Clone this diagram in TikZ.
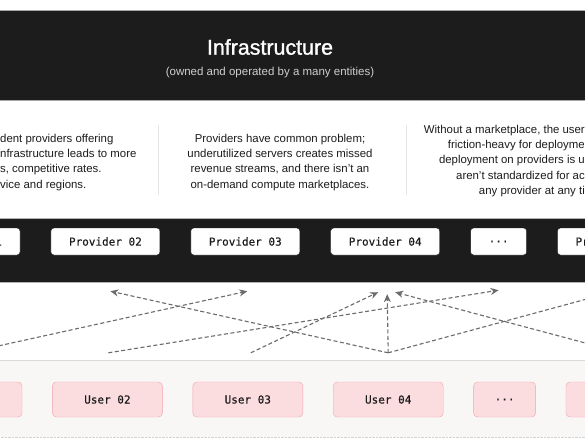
\documentclass[tikz,border=0pt]{standalone}
\usepackage{fontspec}
\setmainfont{Liberation Sans}
\newfontfamily\titlefont[FakeBold=1.2]{Liberation Sans}
\newfontfamily\boxfont[FakeBold=0.3]{DejaVu Sans Mono}
\usepackage{tikz}
\usetikzlibrary{arrows.meta,positioning,calc}

\definecolor{bandblack}{HTML}{1C1C1C}
\definecolor{subgray}{HTML}{CFCFCF}
\definecolor{rulegray}{HTML}{E4E4E4}
\definecolor{userband}{HTML}{F8F7F5}
\definecolor{userpink}{HTML}{FBDDE0}
\definecolor{userline}{HTML}{F4A3AB}
\definecolor{flowgray}{HTML}{6B6B6B}

\tikzset{
  prov/.style={draw=bandblack, fill=white, rounded corners=3pt, inner sep=0pt,
    minimum width=109pt, minimum height=27pt, text=bandblack,
    font=\boxfont\fontsize{11}{13}\selectfont},
  usr/.style={draw=userline, fill=userpink, rounded corners=4pt, inner sep=0pt,
    minimum width=110pt, minimum height=35pt, text=bandblack,
    font=\boxfont\fontsize{11}{13}\selectfont},
  note/.style={inner sep=0pt, text=bandblack, font=\fontsize{11.4}{15.2}\selectfont},
  flow/.style={draw=flowgray, line width=1.1pt, dash pattern=on 4pt off 2.5pt,
    -{Stealth[length=8pt,width=7pt]}},
  divider/.style={draw=rulegray, line width=0.8pt}
}

\begin{document}
\begin{tikzpicture}[x=1pt,y=1pt]
\clip (0,0) rectangle (585,-445);
\fill[white] (0,0) rectangle (585,-445);

% bands
\draw[fill=bandblack, draw=gray!70] (-5,-10) rectangle (590,-100);
\draw[fill=bandblack, draw=gray!60] (-5,-218) rectangle (590,-282);
\fill[userband] (-5,-360) rectangle (590,-437);
\draw[gray!30, line width=0.8pt] (-5,-360) -- (590,-360);
\draw[gray!35, densely dotted] (-5,-437) -- (590,-437);

% title
\node (title) at (270,-47) [text=white, font=\titlefont\fontsize{21.4}{24}\selectfont] {Infrastructure};
\node (subtitle) at (270,-72.5) [text=subgray, font=\fontsize{11.5}{13}\selectfont] {(owned and operated by a many entities)};

% notes
\node (note01) at (0,-134) [note, anchor=north west, align=left]
  {dent providers offering\\nfrastructure leads to more\\s, competitive rates.\\vice and regions.};
\node (note02) at (280,-134) [note, anchor=north, align=center]
  {Providers have common problem;\\underutilized servers creates missed\\revenue streams, and there isn’t an\\on-demand compute marketplaces.};
\node (note03) at (585,-125) [note, anchor=north east, align=right]
  {Without a marketplace, the user\\friction-heavy for deployme\\deployment on providers is u\\aren’t standardized for ac\\any provider at any ti};
\draw[divider] (158,-125) -- (158,-195);
\draw[divider] (406,-125) -- (406,-195);

% providers
\node (prov01) at (-34.5,-241.5) [prov] {Provider 01};
\node (prov02) [prov, right=30.5pt of prov01] {Provider 02};
\node (prov03) [prov, right=30.5pt of prov02] {Provider 03};
\node (prov04) [prov, right=30.5pt of prov03] {Provider 04};
\node (provdots) [prov, minimum width=56pt, right=30.5pt of prov04] {...};
\node (prov05) [prov, right=30.5pt of provdots] {Provider 05};

% users
\node (user01) at (-33,-399.5) [usr] {User 01};
\node (user02) [usr, right=30pt of user01] {User 02};
\node (user03) [usr, right=30pt of user02] {User 03};
\node (user04) [usr, right=30pt of user03] {User 04};
\node (userdots) [usr, minimum width=62pt, right=30pt of user04] {...};
\node (user05) [usr, right=30pt of userdots] {User 05};

% connector ends
\coordinate (out01) at ($(user01.north)+(0,29)$);
\coordinate (out02) at ($(user02.north)+(1,29)$);
\coordinate (out03) at ($(user03.north)+(3,29)$);
\coordinate (out04) at ($(user04.north)+(0,29)$);
\coordinate (out05) at ($(user05.north)+(1,29)$);
\coordinate (in02) at ($(prov02.south)+(5,-36)$);
\coordinate (in03) at ($(prov03.south)+(2,-36)$);
\coordinate (in04a) at ($(prov04.south)+(-7,-37)$);
\coordinate (in04b) at ($(prov04.south)+(2,-39)$);
\coordinate (in04c) at ($(prov04.south)+(10,-37)$);
\coordinate (indots) at ($(provdots.south)+(0,-35)$);
\coordinate (in05) at ($(prov05.south)+(0,-37)$);

% flows
\draw[flow] (out04) -- (in02);
\draw[flow] (out01) -- (in03);
\draw[flow] (out02) -- (indots);
\draw[flow] (out03) -- (in04a);
\draw[flow] (out04) -- (in04b);
\draw[flow] (out04) -- (in05);
\draw[flow] (out05) -- (in04c);
\end{tikzpicture}
\end{document}
